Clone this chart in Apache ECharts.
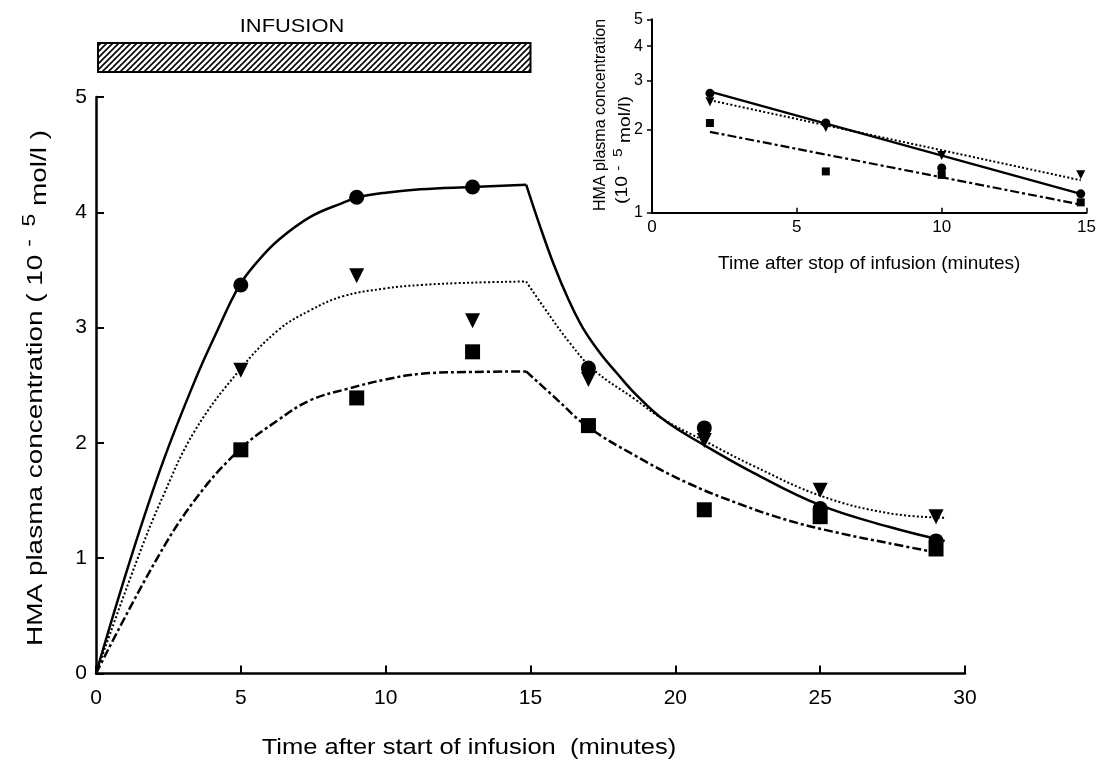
<!DOCTYPE html>
<html><head><meta charset="utf-8">
<script src="https://cdn.jsdelivr.net/npm/echarts@6/dist/echarts.min.js"></script>
<style>html,body{margin:0;padding:0;background:#fff}#c{width:1099px;height:768px}</style>
</head><body><div id="c"></div>
<script>
// ---------- main chart data (time in minutes, concentration 10^-5 mol/l) ----------
const circlePts   = [[5,3.37],[9,4.13],[13,4.22],[17,2.65],[21,2.13],[25,1.43],[29,1.15]];
const trianglePts = [[5,2.63],[9,3.45],[13,3.06],[17,2.55],[21,2.02],[25,1.59],[29,1.36]];
const squarePts   = [[5,1.94],[9,2.39],[13,2.79],[17,2.15],[21,1.42],[25,1.36],[29,1.08]];

const solidRise  = [[0,0],[1.15,0.96],[2.29,1.82],[3.43,2.55],[4.2,2.98],[4.94,3.36],[5.6,3.58],[6.3,3.76],[7.4,3.96],[8.5,4.08],[9.05,4.13],[10,4.17],[11.2,4.2],[13,4.22],[14.85,4.24]];
const solidFall  = [[14.85,4.24],[15.3,3.9],[15.8,3.55],[16.3,3.25],[16.8,3.0],[17.4,2.78],[18.0,2.6],[18.6,2.43],[19.6,2.2],[21.0,1.98],[22.7,1.74],[25.0,1.46],[27.4,1.27],[29.3,1.15]];
const dottedRise = [[0,0],[1.38,0.96],[2.3,1.53],[3.4,2.1],[4.95,2.63],[6.3,2.98],[7.4,3.15],[8.5,3.27],[10,3.34],[11.25,3.37],[13,3.39],[14.85,3.40]];
const dottedFall = [[14.85,3.40],[15.45,3.18],[16.38,2.86],[17.2,2.63],[18.6,2.38],[19.55,2.21],[21.06,2.01],[22.7,1.80],[25.03,1.54],[27.37,1.39],[29.3,1.35]];
const dashedRise = [[0,0],[2.0,0.95],[3.4,1.5],[4.95,1.94],[6.3,2.2],[7.4,2.37],[8.7,2.47],[10,2.55],[11.25,2.6],[13,2.615],[14.85,2.62]];
const dashedFall = [[14.85,2.62],[15.9,2.38],[16.92,2.15],[18.61,1.89],[20.36,1.66],[22.11,1.48],[23.87,1.33],[25.62,1.22],[27.37,1.13],[29.2,1.04]];

const infusion = [[0, 15]];
const mainXTicks = [0,5,10,15,20,25,30];
const mainYTicks = [0,1,2,3,4,5];

// ---------- inset data (time after stop, log scale) ----------
const insetCircle   = [[2,2.70],[6,2.11],[10,1.45],[14.8,1.17]];
const insetTriangle = [[2,2.52],[6,2.03],[10,1.61],[14.8,1.37]];
const insetSquare   = [[2,2.11],[6,1.41],[10,1.37],[14.8,1.09]];
const insetSolid  = [[2,2.74],[14.8,1.17]];
const insetDotted = [[2,2.55],[14.8,1.31]];
const insetDashed = [[2,1.96],[14.8,1.07]];
const insetYTicks = [1,2,3,4,5];

// ---------- rendering ----------
const FONT = 'Liberation Sans';
const chart = echarts.init(document.getElementById('c'), null, {renderer:'canvas'});

const hatch = document.createElement('canvas');
hatch.width = 6; hatch.height = 6;
(function(){
  const g = hatch.getContext('2d');
  g.fillStyle = '#fff'; g.fillRect(0,0,6,6);
  g.strokeStyle = '#000'; g.lineWidth = 1.6;
  g.beginPath();
  g.moveTo(0,6); g.lineTo(6,0);
  g.moveTo(-1,1); g.lineTo(1,-1);
  g.moveTo(5,7); g.lineTo(7,5);
  g.stroke();
})();

const lineBase = (name, data, dash, width, xi) => ({
  name, type:'line', data, xAxisIndex:xi, yAxisIndex:xi, smooth:0.4,
  showSymbol:false, symbol:'none',
  lineStyle:{color:'#000', width, type:dash}, z:2, silent:true, animation:false
});
const ptsBase = (name, data, symbol, size, rot, xi) => ({
  name, type:'scatter', data, xAxisIndex:xi, yAxisIndex:xi, symbol, symbolSize:size, symbolRotate:rot,
  itemStyle:{color:'#000', opacity:1}, z:5, silent:true, animation:false
});

const DOT = [2,2.2];
const DASH = [9,3,3,3];

chart.setOption({
  animation:false,
  backgroundColor:'#fff',
  textStyle:{fontFamily:FONT, color:'#000'},
  grid:[
    {left:96, right:134, top:97, bottom:94.5, containLabel:false},
    {left:652, right:12, top:19.3, bottom:555.3, containLabel:false}
  ],
  xAxis:[
    {type:'value', gridIndex:0, min:0, max:30, interval:5,
     axisLine:{lineStyle:{color:'#000', width:2.5}},
     axisTick:{inside:true, length:8, lineStyle:{color:'#000', width:2}},
     axisLabel:{color:'#000', fontSize:21, margin:14, fontFamily:FONT, customValues: mainXTicks},
     splitLine:{show:false}},
    {type:'value', gridIndex:1, min:0, max:15, interval:5,
     axisLine:{lineStyle:{color:'#000', width:2}},
     axisTick:{inside:true, length:5, lineStyle:{color:'#000', width:1.5}},
     axisLabel:{color:'#000', fontSize:17, margin:6, fontFamily:FONT},
     splitLine:{show:false},
     name:'Time after stop of infusion (minutes)', nameLocation:'middle', nameGap:42,
     nameTextStyle:{color:'#000', fontSize:19, fontFamily:FONT}}
  ],
  yAxis:[
    {type:'value', gridIndex:0, min:0, max:5, interval:1,
     axisLine:{lineStyle:{color:'#000', width:2.5}},
     axisTick:{inside:true, length:8, lineStyle:{color:'#000', width:2}},
     axisLabel:{color:'#000', fontSize:21, margin:9, fontFamily:FONT, customValues: mainYTicks},
     splitLine:{show:false}},
    {type:'log', logBase:10, gridIndex:1, min:1, max:5,
     axisLine:{lineStyle:{color:'#000', width:2}},
     axisTick:{inside:false, length:5, lineStyle:{color:'#000', width:1.5}, customValues: insetYTicks},
     axisLabel:{color:'#000', fontSize:16, margin:9, fontFamily:FONT, customValues: insetYTicks},
     splitLine:{show:false}, minorTick:{show:false}}
  ],
  graphic:[
    {type:'text', x:292, y:27, scaleX:1.15, style:{text:'INFUSION', fontSize:19, fontFamily:FONT, fill:'#000', align:'center', verticalAlign:'middle'}},
    {type:'text', x:469, y:748, scaleX:1.16, style:{text:'Time after start of infusion  (minutes)', fontSize:22, fontFamily:FONT, fill:'#000', align:'center', verticalAlign:'middle'}},
    {type:'text', x:36, y:388, rotation:Math.PI/2, scaleX:1.27, style:{
      text:'{n|HMA plasma concentration ( 10 }{s|-  5}{m| mol/l )}',
      align:'center', verticalAlign:'middle', fill:'#000',
      rich:{
        n:{fontSize:22, fontFamily:FONT, lineHeight:30, fill:'#000'},
        s:{fontSize:18, fontFamily:FONT, lineHeight:17, verticalAlign:'top', fill:'#000'},
        m:{fontSize:22, fontFamily:FONT, lineHeight:26, verticalAlign:'bottom', fill:'#000'}
      }}},
    {type:'text', x:601, y:115, rotation:Math.PI/2, style:{
      text:'HMA plasma concentration', fontSize:16, fontFamily:FONT, fill:'#000',
      align:'center', verticalAlign:'middle'}},
    {type:'text', x:623, y:150, rotation:Math.PI/2, scaleX:1.2, style:{
      text:'{n|(10 }{s|-  5}{m| mol/l)}',
      align:'center', verticalAlign:'middle', fill:'#000',
      rich:{
        n:{fontSize:16, fontFamily:FONT, lineHeight:22, fill:'#000'},
        s:{fontSize:13, fontFamily:FONT, lineHeight:13, verticalAlign:'top', fill:'#000'},
        m:{fontSize:16, fontFamily:FONT, lineHeight:19, verticalAlign:'bottom', fill:'#000'}
      }}}
  ],
  series:[
    {type:'custom', xAxisIndex:0, yAxisIndex:0, data:infusion, clip:false, silent:true, z:1,
     renderItem:(params, api) => {
       const top = params.coordSys.y;
       const a = api.coord([api.value(0), 0]);
       const b = api.coord([api.value(1), 0]);
       return {type:'rect', shape:{x:a[0]+2, y:top-54, width:b[0]-a[0]-2, height:29},
         style:{fill:{image:hatch, repeat:'repeat'}, stroke:'#000', lineWidth:2}};
     }},
    lineBase('solidRise', solidRise, 'solid', 2.5, 0),
    lineBase('solidFall', solidFall, 'solid', 2.5, 0),
    lineBase('dottedRise', dottedRise, DOT, 2, 0),
    lineBase('dottedFall', dottedFall, DOT, 2, 0),
    lineBase('dashedRise', dashedRise, DASH, 2.5, 0),
    lineBase('dashedFall', dashedFall, DASH, 2.5, 0),
    ptsBase('circle', circlePts, 'circle', 15, 0, 0),
    ptsBase('triangle', trianglePts, 'triangle', 15, 180, 0),
    ptsBase('square', squarePts, 'rect', 15, 0, 0),
    lineBase('insetSolid', insetSolid, 'solid', 2.2, 1),
    lineBase('insetDotted', insetDotted, DOT, 2, 1),
    lineBase('insetDashed', insetDashed, DASH, 2.2, 1),
    ptsBase('insetCircle', insetCircle, 'circle', 9, 0, 1),
    ptsBase('insetTriangle', insetTriangle, 'triangle', 9, 180, 1),
    ptsBase('insetSquare', insetSquare, 'rect', 8, 0, 1)
  ]
});
</script></body></html>
